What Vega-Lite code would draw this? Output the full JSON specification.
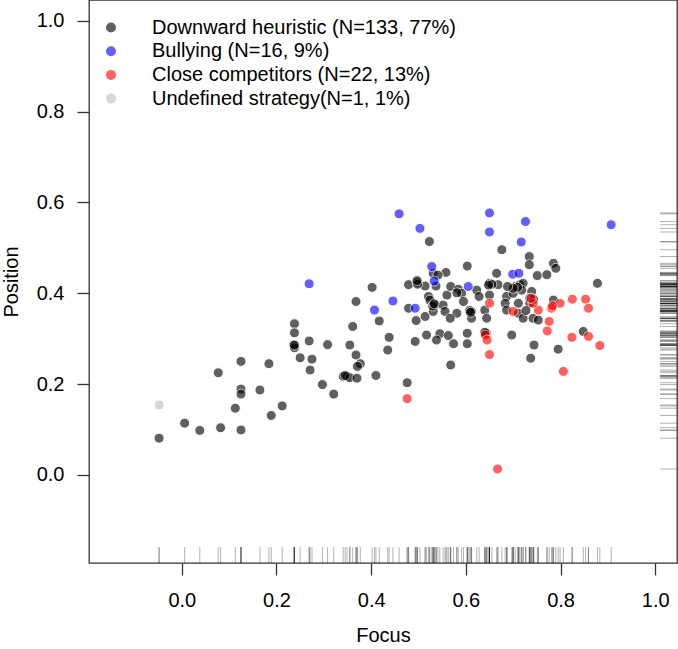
{
  "$schema": "https://vega.github.io/schema/vega-lite/v6.json",
  "width": 588,
  "height": 563,
  "autosize": "none",
  "padding": {"left": 89, "top": 0, "right": 1, "bottom": 86},
  "background": "white",
  "config": {
    "font": "Liberation Sans",
    "view": {"stroke": "#333333", "strokeWidth": 1.3},
    "axis": {"grid": false, "domain": false, "tickSize": 12, "tickColor": "#333333", "tickWidth": 1.3,
      "labelFontSize": 20, "labelColor": "black", "labelFlush": false, "labelOverlap": false,
      "titleFontSize": 20, "titleFontWeight": "normal", "titleColor": "black"},
    "axisX": {"labelPadding": 15, "titlePadding": 15},
    "axisY": {"labelPadding": 13, "titlePadding": 15}
  },
  "data": {"values": [
    {"x": -0.048, "y": 0.081, "g": "D"}, {"x": 0.006, "y": 0.114, "g": "D"}, {"x": 0.038, "y": 0.098, "g": "D"},
    {"x": 0.082, "y": 0.104, "g": "D"}, {"x": 0.077, "y": 0.225, "g": "D"}, {"x": 0.125, "y": 0.099, "g": "D"},
    {"x": 0.125, "y": 0.25, "g": "D"}, {"x": 0.125, "y": 0.189, "g": "D"}, {"x": 0.125, "y": 0.178, "g": "D"},
    {"x": 0.113, "y": 0.147, "g": "D"}, {"x": 0.165, "y": 0.187, "g": "D"}, {"x": 0.184, "y": 0.245, "g": "D"},
    {"x": 0.189, "y": 0.131, "g": "D"}, {"x": 0.212, "y": 0.152, "g": "D"}, {"x": 0.238, "y": 0.333, "g": "D"},
    {"x": 0.238, "y": 0.313, "g": "D"}, {"x": 0.236, "y": 0.286, "g": "D"}, {"x": 0.238, "y": 0.28, "g": "D"},
    {"x": 0.25, "y": 0.258, "g": "D"}, {"x": 0.269, "y": 0.295, "g": "D"}, {"x": 0.275, "y": 0.255, "g": "D"},
    {"x": 0.271, "y": 0.231, "g": "D"}, {"x": 0.308, "y": 0.287, "g": "D"}, {"x": 0.297, "y": 0.199, "g": "D"},
    {"x": 0.321, "y": 0.178, "g": "D"}, {"x": 0.361, "y": 0.327, "g": "D"}, {"x": 0.368, "y": 0.382, "g": "D"},
    {"x": 0.402, "y": 0.413, "g": "D"}, {"x": 0.355, "y": 0.286, "g": "D"}, {"x": 0.368, "y": 0.264, "g": "D"},
    {"x": 0.377, "y": 0.245, "g": "D"}, {"x": 0.371, "y": 0.239, "g": "D"}, {"x": 0.341, "y": 0.217, "g": "D"},
    {"x": 0.349, "y": 0.217, "g": "D"}, {"x": 0.355, "y": 0.214, "g": "D"}, {"x": 0.37, "y": 0.213, "g": "D"},
    {"x": 0.41, "y": 0.219, "g": "D"}, {"x": 0.417, "y": 0.339, "g": "D"}, {"x": 0.438, "y": 0.303, "g": "D"},
    {"x": 0.435, "y": 0.275, "g": "D"}, {"x": 0.476, "y": 0.203, "g": "D"}, {"x": 0.493, "y": 0.294, "g": "D"},
    {"x": 0.517, "y": 0.308, "g": "D"}, {"x": 0.523, "y": 0.514, "g": "D"}, {"x": 0.479, "y": 0.419, "g": "D"},
    {"x": 0.497, "y": 0.424, "g": "D"}, {"x": 0.479, "y": 0.367, "g": "D"}, {"x": 0.495, "y": 0.34, "g": "D"},
    {"x": 0.514, "y": 0.349, "g": "D"}, {"x": 0.521, "y": 0.393, "g": "D"}, {"x": 0.535, "y": 0.374, "g": "D"},
    {"x": 0.56, "y": 0.396, "g": "D"}, {"x": 0.558, "y": 0.446, "g": "D"}, {"x": 0.545, "y": 0.311, "g": "D"},
    {"x": 0.563, "y": 0.307, "g": "D"}, {"x": 0.538, "y": 0.297, "g": "D"}, {"x": 0.568, "y": 0.242, "g": "D"},
    {"x": 0.531, "y": 0.444, "g": "D"}, {"x": 0.514, "y": 0.416, "g": "D"},
    {"x": 0.676, "y": 0.496, "g": "D"}, {"x": 0.734, "y": 0.481, "g": "D"}, {"x": 0.734, "y": 0.463, "g": "D"},
    {"x": 0.603, "y": 0.46, "g": "D"}, {"x": 0.665, "y": 0.444, "g": "D"}, {"x": 0.751, "y": 0.439, "g": "D"},
    {"x": 0.537, "y": 0.416, "g": "D"}, {"x": 0.568, "y": 0.415, "g": "D"}, {"x": 0.584, "y": 0.409, "g": "D"},
    {"x": 0.65, "y": 0.422, "g": "D"}, {"x": 0.668, "y": 0.419, "g": "D"}, {"x": 0.623, "y": 0.407, "g": "D"},
    {"x": 0.591, "y": 0.4, "g": "D"}, {"x": 0.628, "y": 0.393, "g": "D"}, {"x": 0.65, "y": 0.396, "g": "D"},
    {"x": 0.686, "y": 0.393, "g": "D"}, {"x": 0.7, "y": 0.4, "g": "D"}, {"x": 0.552, "y": 0.374, "g": "D"},
    {"x": 0.595, "y": 0.382, "g": "D"}, {"x": 0.683, "y": 0.378, "g": "D"}, {"x": 0.711, "y": 0.378, "g": "D"},
    {"x": 0.735, "y": 0.378, "g": "D"}, {"x": 0.531, "y": 0.36, "g": "D"}, {"x": 0.556, "y": 0.36, "g": "D"},
    {"x": 0.581, "y": 0.356, "g": "D"}, {"x": 0.612, "y": 0.36, "g": "D"}, {"x": 0.64, "y": 0.363, "g": "D"},
    {"x": 0.567, "y": 0.345, "g": "D"}, {"x": 0.612, "y": 0.345, "g": "D"}, {"x": 0.644, "y": 0.345, "g": "D"},
    {"x": 0.686, "y": 0.363, "g": "D"}, {"x": 0.711, "y": 0.356, "g": "D"}, {"x": 0.721, "y": 0.345, "g": "D"},
    {"x": 0.742, "y": 0.345, "g": "D"},
    {"x": 0.785, "y": 0.466, "g": "D"}, {"x": 0.79, "y": 0.455, "g": "D"}, {"x": 0.771, "y": 0.441, "g": "D"},
    {"x": 0.878, "y": 0.422, "g": "D"}, {"x": 0.739, "y": 0.404, "g": "D"}, {"x": 0.735, "y": 0.389, "g": "D"},
    {"x": 0.785, "y": 0.385, "g": "D"}, {"x": 0.753, "y": 0.341, "g": "D"},
    {"x": 0.603, "y": 0.312, "g": "D"}, {"x": 0.643, "y": 0.312, "g": "D"}, {"x": 0.697, "y": 0.308, "g": "D"},
    {"x": 0.744, "y": 0.286, "g": "D"}, {"x": 0.574, "y": 0.289, "g": "D"}, {"x": 0.603, "y": 0.289, "g": "D"},
    {"x": 0.737, "y": 0.257, "g": "D"}, {"x": 0.848, "y": 0.316, "g": "D"}, {"x": 0.795, "y": 0.277, "g": "D"},
    {"x": 0.704, "y": 0.415, "g": "D"}, {"x": 0.714, "y": 0.419, "g": "D"}, {"x": 0.721, "y": 0.422, "g": "D"},
    {"x": 0.718, "y": 0.407, "g": "D"}, {"x": 0.524, "y": 0.385, "g": "D"},
    {"x": 0.238, "y": 0.286, "g": "D"}, {"x": 0.345, "y": 0.219, "g": "D"}, {"x": 0.53, "y": 0.372, "g": "D"},
    {"x": 0.533, "y": 0.377, "g": "D"}, {"x": 0.608, "y": 0.362, "g": "D"}, {"x": 0.61, "y": 0.358, "g": "D"},
    {"x": 0.709, "y": 0.413, "g": "D"}, {"x": 0.7, "y": 0.411, "g": "D"}, {"x": 0.655, "y": 0.42, "g": "D"},
    {"x": 0.648, "y": 0.418, "g": "D"}, {"x": 0.727, "y": 0.362, "g": "D"}, {"x": 0.743, "y": 0.387, "g": "D"},
    {"x": 0.541, "y": 0.44, "g": "D"}, {"x": 0.498, "y": 0.42, "g": "D"}, {"x": 0.64, "y": 0.314, "g": "D"},
    {"x": 0.581, "y": 0.401, "g": "D"}, {"x": 0.688, "y": 0.415, "g": "D"}, {"x": 0.497, "y": 0.428, "g": "D"},
    {"x": 0.459, "y": 0.575, "g": "B"}, {"x": 0.503, "y": 0.543, "g": "B"}, {"x": 0.269, "y": 0.421, "g": "B"},
    {"x": 0.446, "y": 0.383, "g": "B"}, {"x": 0.407, "y": 0.363, "g": "B"}, {"x": 0.493, "y": 0.367, "g": "B"},
    {"x": 0.528, "y": 0.459, "g": "B"}, {"x": 0.533, "y": 0.427, "g": "B"}, {"x": 0.605, "y": 0.415, "g": "B"},
    {"x": 0.699, "y": 0.442, "g": "B"}, {"x": 0.712, "y": 0.444, "g": "B"}, {"x": 0.65, "y": 0.535, "g": "B"},
    {"x": 0.726, "y": 0.558, "g": "B"}, {"x": 0.717, "y": 0.513, "g": "B"}, {"x": 0.907, "y": 0.551, "g": "B"},
    {"x": 0.65, "y": 0.577, "g": "B"},
    {"x": 0.476, "y": 0.168, "g": "C"}, {"x": 0.667, "y": 0.013, "g": "C"}, {"x": 0.781, "y": 0.367, "g": "C"},
    {"x": 0.799, "y": 0.378, "g": "C"}, {"x": 0.825, "y": 0.387, "g": "C"}, {"x": 0.853, "y": 0.387, "g": "C"},
    {"x": 0.859, "y": 0.367, "g": "C"}, {"x": 0.753, "y": 0.363, "g": "C"}, {"x": 0.776, "y": 0.338, "g": "C"},
    {"x": 0.772, "y": 0.317, "g": "C"}, {"x": 0.824, "y": 0.303, "g": "C"}, {"x": 0.859, "y": 0.305, "g": "C"},
    {"x": 0.883, "y": 0.285, "g": "C"}, {"x": 0.806, "y": 0.228, "g": "C"}, {"x": 0.7, "y": 0.36, "g": "C"},
    {"x": 0.65, "y": 0.378, "g": "C"}, {"x": 0.641, "y": 0.308, "g": "C"}, {"x": 0.645, "y": 0.297, "g": "C"},
    {"x": 0.65, "y": 0.265, "g": "C"}, {"x": 0.742, "y": 0.378, "g": "C"}, {"x": 0.738, "y": 0.389, "g": "C"},
    {"x": 0.783, "y": 0.372, "g": "C"},
    {"x": -0.048, "y": 0.154, "g": "U"}
  ]},
  "layer": [
    {
      "mark": {"type": "rule", "color": "black", "opacity": 0.3, "strokeWidth": 1},
      "encoding": {
        "x": {"field": "x", "type": "quantitative", "scale": {"domain": [-0.196, 1.046], "nice": false, "zero": false},
          "axis": {"title": "Focus", "values": [0, 0.2, 0.4, 0.6, 0.8, 1], "format": ".1f"}},
        "y": {"datum": -0.194, "type": "quantitative", "scale": {"domain": [-0.194, 1.046], "nice": false, "zero": false},
          "axis": {"title": "Position", "values": [0, 0.2, 0.4, 0.6, 0.8, 1], "format": ".1f"}},
        "y2": {"datum": -0.159}
      }
    },
    {
      "mark": {"type": "rule", "color": "black", "opacity": 0.3, "strokeWidth": 1},
      "encoding": {
        "y": {"field": "y", "type": "quantitative", "scale": {"domain": [-0.194, 1.046], "nice": false, "zero": false},
          "axis": {"title": "Position", "values": [0, 0.2, 0.4, 0.6, 0.8, 1], "format": ".1f"}},
        "x": {"datum": 1.01, "type": "quantitative", "scale": {"domain": [-0.196, 1.046], "nice": false, "zero": false},
          "axis": {"title": "Focus", "values": [0, 0.2, 0.4, 0.6, 0.8, 1], "format": ".1f"}},
        "x2": {"datum": 1.046}
      }
    },
    {
      "mark": {"type": "point", "filled": true, "stroke": "white", "strokeWidth": 1, "strokeOpacity": 1, "size": 100, "opacity": 0.62},
      "encoding": {
        "x": {"field": "x", "type": "quantitative",
          "scale": {"domain": [-0.196, 1.046], "nice": false, "zero": false},
          "axis": {"title": "Focus", "values": [0, 0.2, 0.4, 0.6, 0.8, 1], "format": ".1f"}},
        "y": {"field": "y", "type": "quantitative",
          "scale": {"domain": [-0.194, 1.046], "nice": false, "zero": false},
          "axis": {"title": "Position", "values": [0, 0.2, 0.4, 0.6, 0.8, 1], "format": ".1f"}},
        "color": {"field": "g", "type": "nominal",
          "scale": {"domain": ["D", "B", "C", "U"], "range": ["#000000", "#0000ff", "#ff0000", "#bebebe"]},
          "legend": {"orient": "none", "legendX": 12, "legendY": 17.5, "title": null, "padding": 0,
            "labelFontSize": 20, "labelColor": "black", "labelLimit": 0, "symbolSize": 100, "symbolType": "circle",
            "symbolStrokeWidth": 0, "symbolOpacity": 0.62, "labelOffset": 31, "rowPadding": 3.7,
            "labelExpr": "{'D': 'Downward heuristic (N=133, 77%)', 'B': 'Bullying (N=16, 9%)', 'C': 'Close competitors (N=22, 13%)', 'U': 'Undefined strategy(N=1, 1%)'}[datum.label]"}}
      }
    }
  ]
}
